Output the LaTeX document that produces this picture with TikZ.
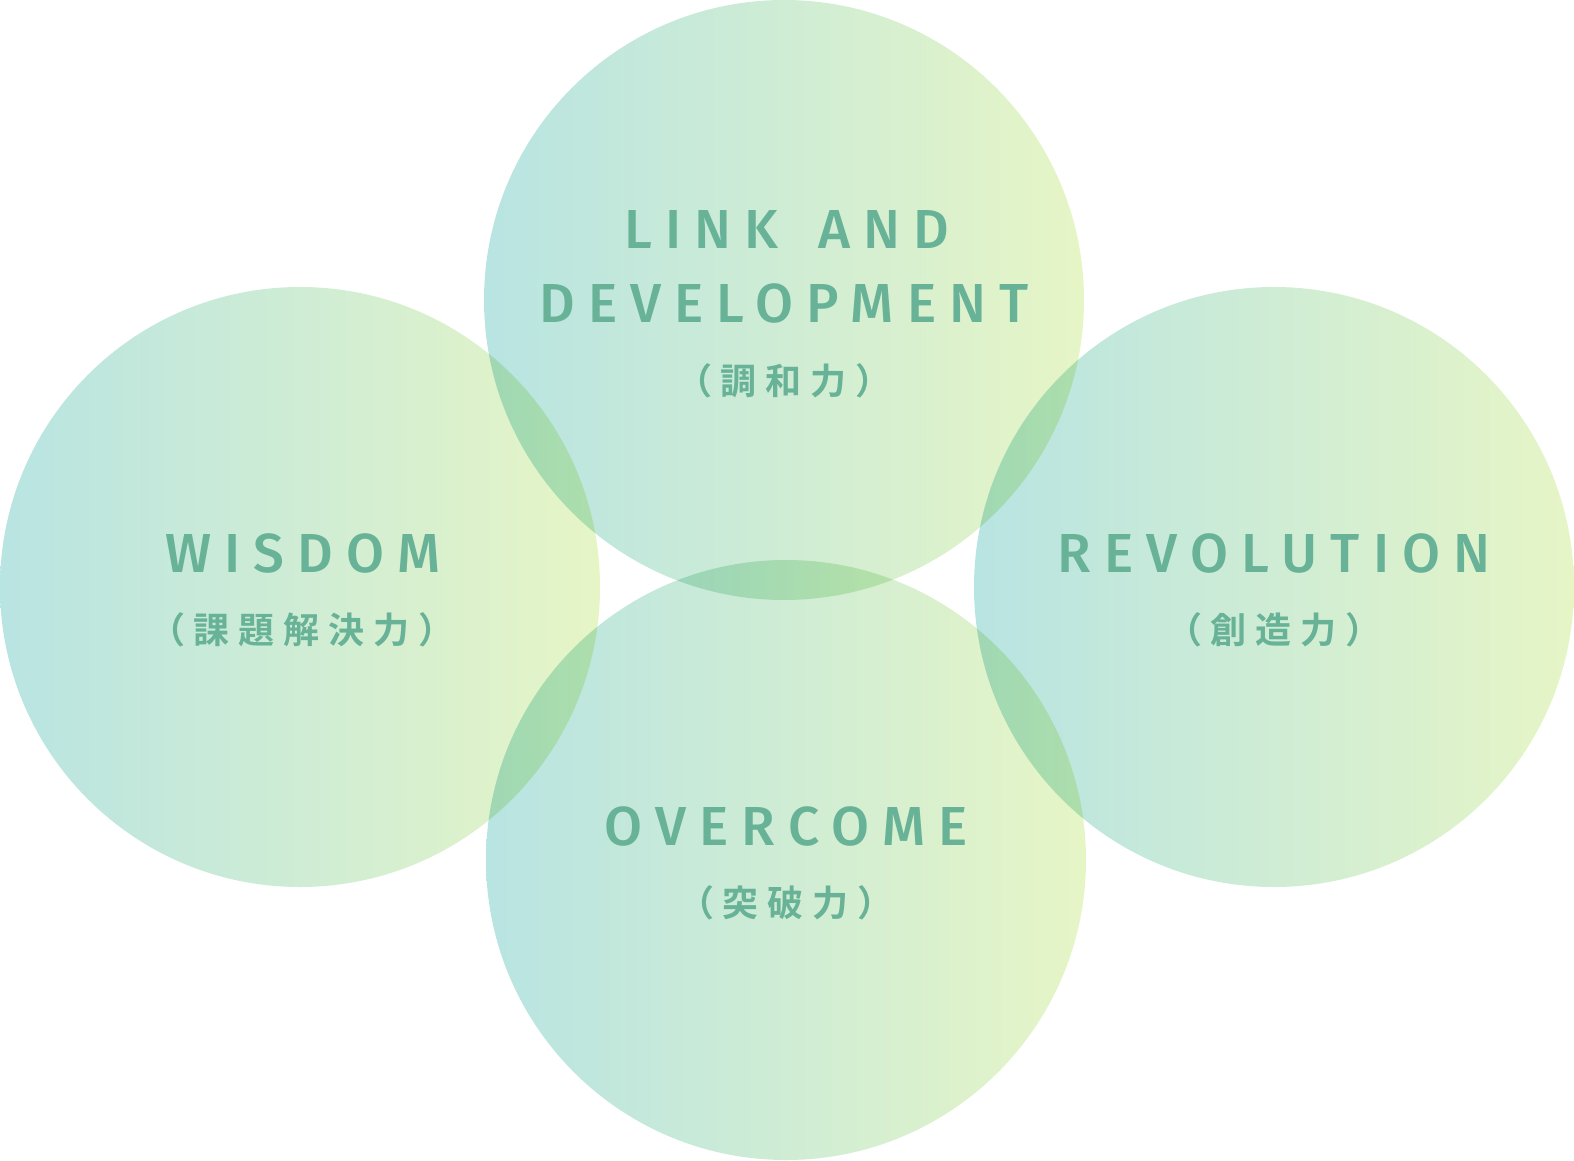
\documentclass[tikz,border=0pt]{standalone}
\usepackage{fontspec}
\newfontfamily\lat[LetterSpace=24]{Fira Sans Medium}
\newfontfamily\cjk[LetterSpace=25]{Noto Sans CJK JP Bold}
\definecolor{lbl}{HTML}{68B297}
\definecolor{cl}{HTML}{B8E4E2}
\definecolor{cr}{HTML}{E6F5C6}
\tikzset{
  bubble/.style={left color=cl,right color=cr,draw=none},
  entxt/.style={text=lbl,font=\lat\fontsize{55}{60}\selectfont,inner sep=0pt,align=center},
  jptxt/.style={text=lbl,font=\cjk\fontsize{36}{40}\selectfont,inner sep=0pt}
}
\begin{document}
\begin{tikzpicture}[x=1pt,y=-1pt]
\useasboundingbox (0,0) rectangle (1574,1161);
\begin{scope}[blend group=multiply]
\path[bubble] (300,587) circle[radius=300];
\path[bubble] (784,300) circle[radius=300];
\path[bubble] (1274,587) circle[radius=300];
\path[bubble] (786,860) circle[radius=300];
\end{scope}
\node[entxt] (t1) at (787,229) {LINK\hspace{13pt} AND};
\node[entxt] (t2) at (784,303) {DEVELOPMENT};
\node[jptxt] (t3) at (784,381) {（調和力）};
\node[entxt] (l1) at (303,553) {WISDOM};
\node[jptxt] (l2) at (302,630) {（課題解決力）};
\node[entxt] (r1) at (1274,553) {REVOLUTION};
\node[jptxt] (r2) at (1274,630) {（創造力）};
\node[entxt] (b1) at (786,826) {OVERCOME};
\node[jptxt] (b2) at (786,903) {（突破力）};
\end{tikzpicture}
\end{document}
